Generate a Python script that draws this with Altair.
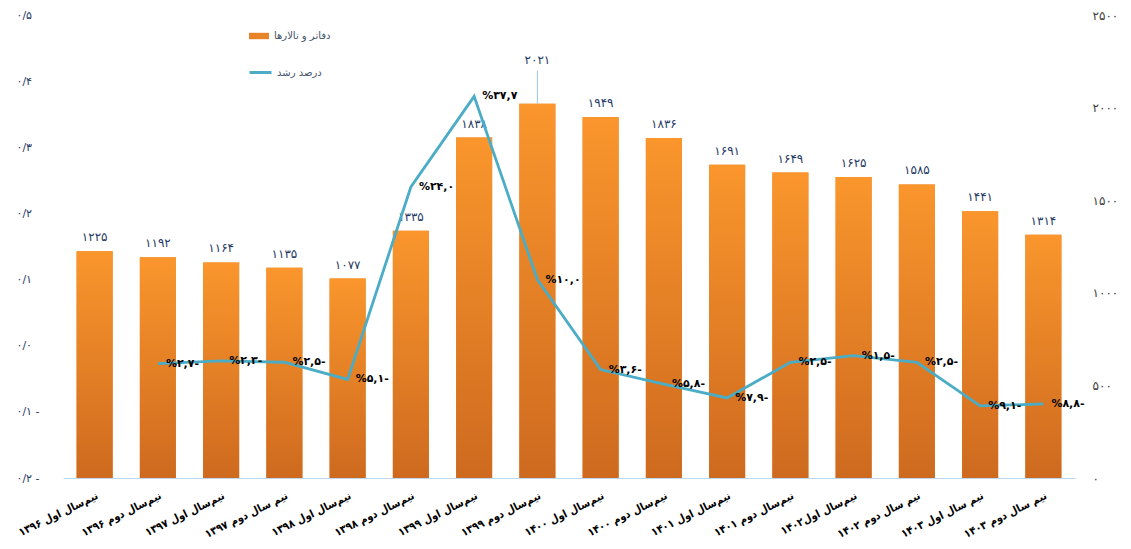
import altair as alt
import pandas as pd

categories = [
    "نیم‌سال اول ۱۳۹۶", "نیم‌سال دوم ۱۳۹۶", "نیم‌سال اول ۱۳۹۷", "نیم سال دوم ۱۳۹۷",
    "نیم‌سال اول ۱۳۹۸", "نیم‌سال دوم ۱۳۹۸", "نیم‌سال اول ۱۳۹۹", "نیم‌سال دوم ۱۳۹۹",
    "نیم‌سال اول ۱۴۰۰", "نیم‌سال دوم ۱۴۰۰", "نیم‌سال اول ۱۴۰۱", "نیم‌سال دوم ۱۴۰۱",
    "نیم‌سال اول۱۴۰۲", "نیم سال دوم ۱۴۰۲", "نیم سال اول ۱۴۰۳", "نیم سال دوم ۱۴۰۳",
]
halls = [1225, 1192, 1164, 1135, 1077, 1335, 1838, 2021, 1949, 1836, 1691, 1649, 1625, 1585, 1441, 1314]
growth_pct = [None, -2.7, -2.3, -2.5, -5.1, 24.0, 37.7, 10.0, -3.6, -5.8, -7.9, -2.5, -1.5, -2.5, -9.1, -8.8]

left_ticks = [-0.2, -0.1, 0.0, 0.1, 0.2, 0.3, 0.4, 0.5]
left_tick_labels = ["۰/۲ -", "۰/۱ -", "۰/۰", "۰/۱", "۰/۲", "۰/۳", "۰/۴", "۰/۵"]
right_ticks = [0, 500, 1000, 1500, 2000, 2500]
right_tick_labels = ["۰", "۵۰۰", "۱۰۰۰", "۱۵۰۰", "۲۰۰۰", "۲۵۰۰"]

series_bar = "دفاتر و تالارها"
series_line = "درصد رشد"

FA = str.maketrans("0123456789", "۰۱۲۳۴۵۶۷۸۹")


def fa(s):
    return str(s).translate(FA)


def growth_label(g):
    if g is None:
        return None
    s = fa(f"{abs(g):.1f}".replace(".", ","))
    return "%" + s + ("-" if g < 0 else "")


df = pd.DataFrame({
    "cat": categories,
    "halls": halls,
    "rate": [None if g is None else g / 100 for g in growth_pct],
    "bar_label": [fa(v) for v in halls],
    "g_label": [growth_label(g) for g in growth_pct],
    "s_bar": [series_bar] * len(categories),
    "s_line": [series_line] * len(categories),
})

FONT = "DejaVu Sans"
FONT_X = "DejaVu Sans Condensed"

x_enc = alt.X(
    "cat:N", sort=categories,
    scale=alt.Scale(paddingInner=0.43, paddingOuter=0.215),
    axis=alt.Axis(
        title=None, labelAngle=334, labelAlign="right", labelBaseline="middle",
        labelPadding=17, labelOffset=3, labelFont=FONT_X, labelFontWeight="bold",
        labelFontSize=11, labelColor="#000000", ticks=False,
        domainColor="#BDD7EE", domainWidth=1.2, grid=False, labelLimit=300,
    ),
)

right_expr = "[" + ",".join(f"'{t}'" for t in right_tick_labels) + "][round(datum.value/500)]"
left_expr = "[" + ",".join(f"'{t}'" for t in left_tick_labels) + "][round((datum.value+0.2)*10)]"


def right_axis():
    return alt.Axis(
        orient="right", title=None, values=right_ticks, labelExpr=right_expr,
        domain=False, ticks=False, grid=False, labelAlign="left", labelPadding=17,
        labelFont=FONT, labelFontSize=12, labelColor="#404040",
    )


bar_scale = alt.Scale(domain=[0, 2500], nice=False, zero=True)

base = alt.Chart(df).encode(x=x_enc)

bars_legend = base.mark_bar().encode(
    y=alt.Y("halls:Q", scale=bar_scale, axis=right_axis()),
    color=alt.Color(
        "s_bar:N",
        scale=alt.Scale(range=["#E8832A"]),
        legend=alt.Legend(
            title=None, orient="none", legendX=185, legendY=10,
            symbolType="M-1,-0.32H1V0.32H-1Z", symbolSize=400, labelOffset=4,
            labelFont=FONT, labelFontSize=10, labelColor="#44546A", padding=0,
        ),
    ),
)

bars = base.mark_bar(
    color={
        "gradient": "linear", "x1": 0, "x2": 0, "y1": 0, "y2": 1,
        "stops": [{"offset": 0, "color": "#FA962C"}, {"offset": 1, "color": "#CE6A1F"}],
    }
).encode(y=alt.Y("halls:Q", scale=bar_scale, axis=right_axis()))

bar_text = base.transform_joinaggregate(
    maxv="max(halls)"
).transform_calculate(
    pos="datum.halls + (datum.halls == datum.maxv ? 162 : 0)"
).mark_text(
    baseline="middle", dy=-14, font=FONT, fontSize=12, color="#1F3864"
).encode(
    y=alt.Y("pos:Q", scale=bar_scale, axis=right_axis()),
    text="bar_label:N",
)

leader = base.transform_joinaggregate(
    maxv="max(halls)"
).transform_filter(
    "datum.halls == datum.maxv"
).transform_calculate(
    top="datum.halls + 178"
).mark_rule(color="#9DC3E6", strokeWidth=1).encode(
    y=alt.Y("halls:Q", scale=bar_scale, axis=right_axis()),
    y2="top:Q",
)

y_line = alt.Y(
    "rate:Q", scale=alt.Scale(domain=[-0.2, 0.5], nice=False, zero=False),
    axis=alt.Axis(
        orient="left", title=None, values=left_ticks, labelExpr=left_expr,
        domain=False, ticks=False, grid=False, labelAlign="left", labelPadding=47,
        labelFont=FONT, labelFontSize=11, labelColor="#1F3864",
    ),
)

line = base.mark_line(strokeWidth=2.8).encode(
    y=y_line,
    stroke=alt.Stroke(
        "s_line:N",
        scale=alt.Scale(range=["#4BACC6"]),
        legend=alt.Legend(
            title=None, orient="none", legendX=185, legendY=45,
            symbolType="stroke", symbolSize=484, symbolStrokeWidth=3, labelOffset=4,
            labelFont=FONT, labelFontSize=10, labelColor="#44546A", padding=0,
        ),
    ),
)

line_text = base.mark_text(
    align="left", baseline="middle", dx=8, font=FONT, fontSize=11,
    fontWeight="bold", color="#000000"
).encode(y=y_line, text="g_label:N")

left_group = alt.layer(bars_legend, bars, bar_text, leader)
right_group = alt.layer(line, line_text)

chart = alt.layer(left_group, right_group).resolve_scale(
    y="independent"
).properties(
    width=1012, height=463,
    autosize=alt.AutoSizeParams(type="none"),
    padding={"left": 55, "top": 7, "right": 47, "bottom": 63},
).configure_view(stroke=None)

chart.save("out.html", embed_options={"renderer": "svg", "actions": False})
